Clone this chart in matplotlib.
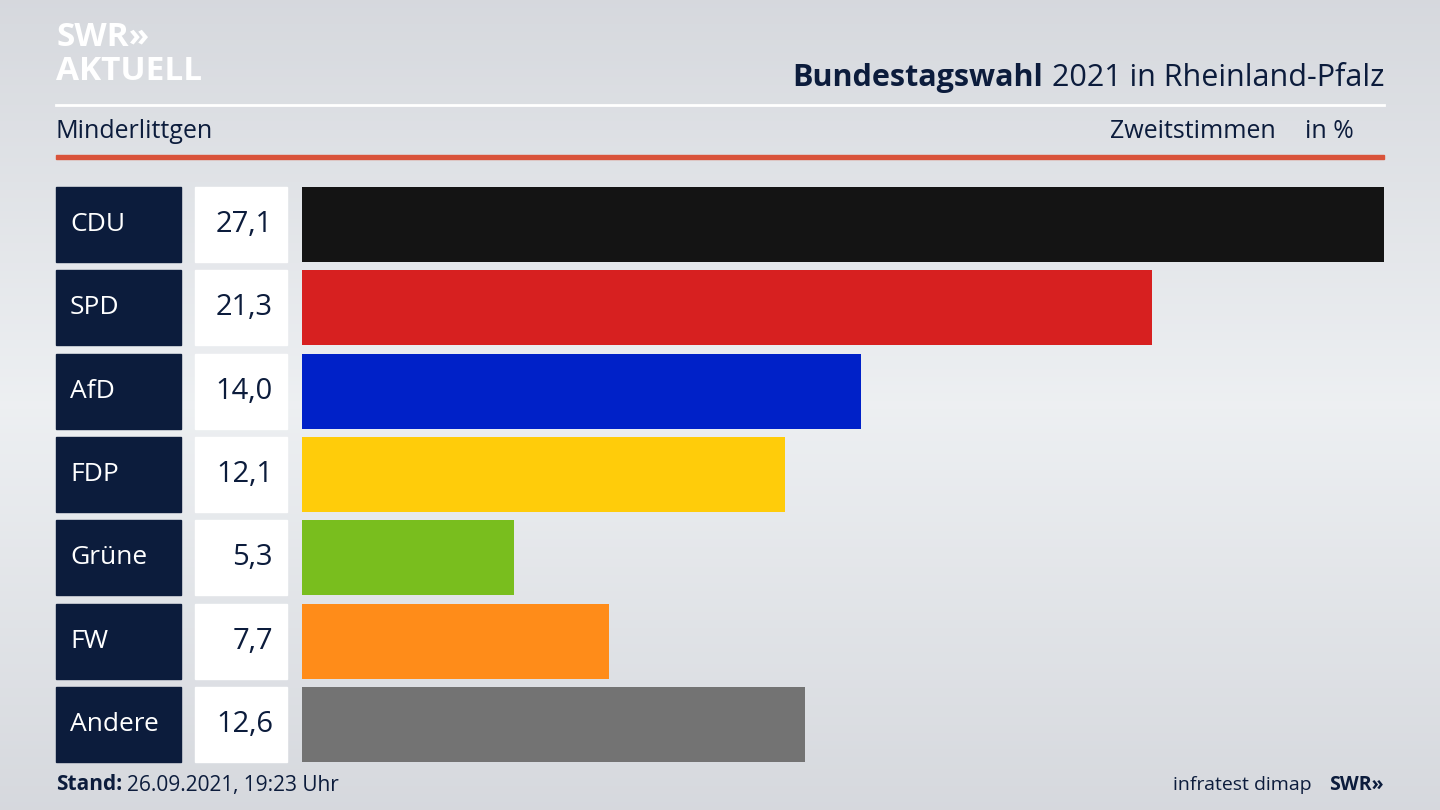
import matplotlib
matplotlib.use("Agg")
import matplotlib.pyplot as plt
import numpy as np
from matplotlib.patches import Rectangle

parties = ["CDU", "SPD", "AfD", "FDP", "Grüne", "FW", "Andere"]
values = [27.1, 21.3, 14.0, 12.1, 5.3, 7.7, 12.6]
colors = ["#141414", "#d72020", "#0021c8", "#ffcc0a", "#79be1e", "#ff8c19", "#737373"]
value_labels = ["27,1", "21,3", "14,0", "12,1", "5,3", "7,7", "12,6"]

W, H = 1440, 810
fig = plt.figure(figsize=(W/100, H/100), dpi=100)
plt.rcParams["font.family"] = "Open Sans"

bg = fig.add_axes([0, 0, 1, 1])
y = np.linspace(0, 1, 200)
g = 1 - np.abs(y - 0.5) * 2
col = np.stack([0.84 + 0.09*g, 0.85 + 0.09*g, 0.87 + 0.08*g], axis=-1)
bg.imshow(col[:, None, :].repeat(2, axis=1), aspect="auto", extent=[0, W, H, 0])
bg.set_xlim(0, W); bg.set_ylim(H, 0); bg.axis("off")

navy = "#0c1c3c"
bg.text(56, 38, "SWR»", color="white", fontsize=24, fontweight="bold", va="center")
bg.text(56, 72, "AKTUELL", color="white", fontsize=24, fontweight="bold", va="center")
bg.text(1384, 78, "2021 in Rheinland-Pfalz", color=navy, fontsize=22, va="center", ha="right")
bg.text(1043, 78, "Bundestagswahl", color=navy, fontsize=22, fontweight="bold", va="center", ha="right")
bg.plot([56, 1384], [105, 105], color="white", lw=2)
bg.text(56, 132, "Minderlittgen", color=navy, fontsize=18, va="center")
bg.text(1276, 132, "Zweitstimmen", color=navy, fontsize=18, va="center", ha="right")
bg.text(1354, 132, "in %", color=navy, fontsize=18, va="center", ha="right")
bg.add_patch(Rectangle((56, 155), 1328, 4, color="#d9533a"))

tops = [187, 270, 354, 437, 520, 604, 687]
h = 75
for p, vl, t in zip(parties, value_labels, tops):
    bg.add_patch(Rectangle((56, t), 125, h, color=navy))
    bg.text(70, t + h/2, p, color="white", fontsize=19, va="center")
    bg.add_patch(Rectangle((195, t), 92, h, color="white"))
    bg.text(273, t + h/2, vl, color=navy, fontsize=21, va="center", ha="right")

ax = fig.add_axes([302/W, 0, (1384-302)/W, 1])
ax.set_xlim(0, max(values)); ax.set_ylim(H, 0); ax.axis("off")
ax.barh([t + h/2 for t in tops], values, height=h, color=colors, left=0)

bg.text(56, 785, "Stand:", color=navy, fontsize=15, fontweight="bold", va="center")
bg.text(127, 785, "26.09.2021, 19:23 Uhr", color=navy, fontsize=15, va="center")
bg.text(1312, 785, "infratest dimap", color=navy, fontsize=14, va="center", ha="right")
bg.text(1384, 785, "SWR»", color=navy, fontsize=14, fontweight="bold", va="center", ha="right")

fig.savefig("out.png", dpi=100)
